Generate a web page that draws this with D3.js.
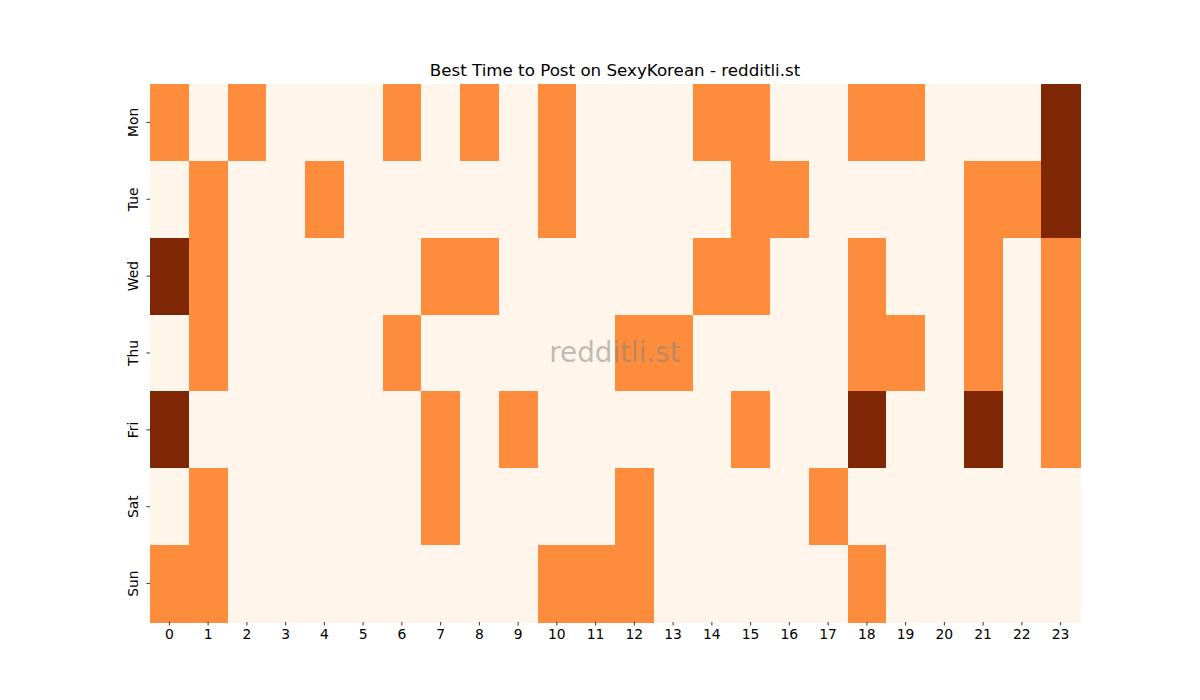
<!DOCTYPE html>
<html><head><meta charset="utf-8">
<script src="https://cdn.jsdelivr.net/npm/d3@7"></script>
<style>body{margin:0;background:#fff;} svg{display:block;}</style>
</head><body>
<svg id="chart" width="1200" height="700"></svg>
<script>
const days = ["Mon","Tue","Wed","Thu","Fri","Sat","Sun"];
const hours = ["0","1","2","3","4","5","6","7","8","9","10","11","12","13","14","15","16","17","18","19","20","21","22","23"];
const mon = [1,0,1,0,0,0,1,0,1,0,1,0,0,0,1,1,0,0,1,1,0,0,0,2];
const tue = [0,1,0,0,1,0,0,0,0,0,1,0,0,0,0,1,1,0,0,0,0,1,1,2];
const wed = [2,1,0,0,0,0,0,1,1,0,0,0,0,0,1,1,0,0,1,0,0,1,0,1];
const thu = [0,1,0,0,0,0,1,0,0,0,0,0,1,1,0,0,0,0,1,1,0,1,0,1];
const fri = [2,0,0,0,0,0,0,1,0,1,0,0,0,0,0,1,0,0,2,0,0,2,0,1];
const sat = [0,1,0,0,0,0,0,1,0,0,0,0,1,0,0,0,0,1,0,0,0,0,0,0];
const sun = [1,1,0,0,0,0,0,0,0,0,1,1,1,0,0,0,0,0,1,0,0,0,0,0];
const rows = [mon, tue, wed, thu, fri, sat, sun];
const colors = ["#fff5eb", "#fd8d3c", "#7f2704"];
const title = "Best Time to Post on SexyKorean - redditli.st";

const svg = d3.select("#chart");
const mLeft = 150, mRight = 1080, mTop = 84, mBottom = 622;
const x = d3.scaleBand().domain(hours).range([mLeft, mRight]);
const y = d3.scaleBand().domain(days).range([mTop, mBottom]);
const color = d3.scaleOrdinal().domain([0,1,2]).range(colors);

const cells = [];
rows.forEach((r, i) => r.forEach((v, j) => cells.push({day: days[i], hour: hours[j], v})));
svg.append("g").selectAll("rect").data(cells).join("rect")
  .attr("x", d => x(d.hour)).attr("y", d => y(d.day))
  .attr("width", x.bandwidth() + 0.5).attr("height", y.bandwidth() + 0.5)
  .attr("fill", d => color(d.v)).attr("shape-rendering", "crispEdges");

const font = "DejaVu Sans, sans-serif";
const xAxis = svg.append("g").attr("transform", `translate(0,${mBottom})`)
  .call(d3.axisBottom(x).tickSize(3.5).tickPadding(3.5));
const yAxis = svg.append("g").attr("transform", `translate(${mLeft},0)`)
  .call(d3.axisLeft(y).tickSize(3.5).tickPadding(3.5));
[xAxis, yAxis].forEach(a => {
  a.select(".domain").remove();
  a.selectAll("text").attr("font-family", font).attr("font-size", 13.9).attr("fill", "#000");
  a.selectAll("line").attr("stroke", "#000").attr("stroke-width", 0.8);
});
yAxis.selectAll("text")
  .attr("x", 0).attr("dy", "0.35em").attr("text-anchor", "middle")
  .attr("transform", "translate(-17,0) rotate(-90)");

svg.append("text").attr("x", (mLeft + mRight) / 2).attr("y", 76)
  .attr("text-anchor", "middle").attr("font-family", font).attr("font-size", 16.7)
  .attr("fill", "#000").text(title);

svg.append("text").attr("x", (mLeft + mRight) / 2).attr("y", 362)
  .attr("text-anchor", "middle").attr("font-family", font).attr("font-size", 27.8)
  .attr("fill", "#808080").attr("fill-opacity", 0.5).text("redditli.st");
</script>
</body></html>
